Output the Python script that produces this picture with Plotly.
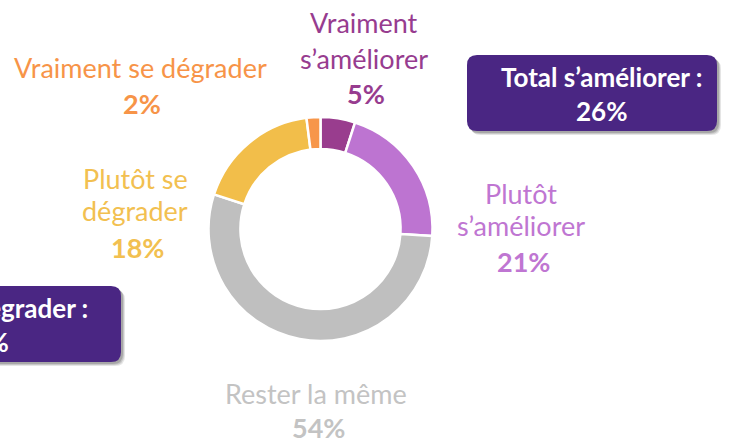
import plotly.graph_objects as go

# ---- data ----
categories = ["Vraiment s’améliorer", "Plutôt s’améliorer", "Rester la même",
              "Plutôt se dégrader", "Vraiment se dégrader"]
values = [5, 21, 54, 18, 2]
label_lines = [["Vraiment", "s’améliorer"], ["Plutôt", "s’améliorer"], ["Rester la même"],
               ["Plutôt se", "dégrader"], ["Vraiment se dégrader"]]
slice_colors = ["#993d8e", "#bd74d1", "#bfbfbf", "#f2be4a", "#f7964a"]
text_colors = ["#973c8f", "#bf76d2", "#c3c3c3", "#f2c050", "#f79448"]
total_labels = ["Total s’améliorer :", "Total se dégrader :"]
total_values = [values[0] + values[1], values[3] + values[4]]

W, H = 729, 440
FONT = "Lato"


def px(x):
    return x / W


def py(y):
    return 1 - y / H


# donut geometry (pixels)
cx, cy, r = 320.5, 229, 112

fig = go.Figure(go.Pie(
    labels=categories, values=values, sort=False, direction="clockwise", rotation=0,
    hole=0.715, marker=dict(colors=slice_colors, line=dict(color="white", width=2.5)),
    textinfo="none", hoverinfo="label+percent", showlegend=False,
    domain=dict(x=[px(cx - r), px(cx + r)], y=[py(cy + r), py(cy - r)]),
))

annotations = []
# label layout: (center x, baselines of name lines, baseline of pct)
label_pos = [
    (364, [31, 68], 102),
    (521, [202, 234], 270),
    (316, [402], 436),
    (135, [187, 220], 257),
    (140, [76], 113),
]
fs = 27
for i, (x, bls, pbl) in enumerate(label_pos):
    for line, bl in zip(label_lines[i], bls):
        annotations.append(dict(x=px(x), y=py(bl - 9), xref="paper", yref="paper",
                                text=line, showarrow=False, xanchor="center", yanchor="middle",
                                font=dict(family=FONT, size=fs, color=text_colors[i])))
    annotations.append(dict(x=px(x + 2), y=py(pbl - 9), xref="paper", yref="paper",
                            text=f"<b>{values[i]}%</b>", showarrow=False,
                            xanchor="center", yanchor="middle",
                            font=dict(family=FONT, size=fs, color=text_colors[i])))


def rounded_path(x0, y0, x1, y1, rad):
    # pixel coords -> paper path with rounded corners
    pts = []
    pts.append(f"M {px(x0 + rad)} {py(y0)}")
    pts.append(f"L {px(x1 - rad)} {py(y0)}")
    pts.append(f"Q {px(x1)} {py(y0)} {px(x1)} {py(y0 + rad)}")
    pts.append(f"L {px(x1)} {py(y1 - rad)}")
    pts.append(f"Q {px(x1)} {py(y1)} {px(x1 - rad)} {py(y1)}")
    pts.append(f"L {px(x0 + rad)} {py(y1)}")
    pts.append(f"Q {px(x0)} {py(y1)} {px(x0)} {py(y1 - rad)}")
    pts.append(f"L {px(x0)} {py(y0 + rad)}")
    pts.append(f"Q {px(x0)} {py(y0)} {px(x0 + rad)} {py(y0)}")
    pts.append("Z")
    return " ".join(pts)


boxes = [(467, 55, 717, 131), (-130, 286, 121, 362)]
shapes = []
for (x0, y0, x1, y1) in boxes:
    for k, op in [(4, 0.10), (3, 0.13), (2, 0.16)]:
        shapes.append(dict(type="path", xref="paper", yref="paper",
                           path=rounded_path(x0 + k, y0 + k, x1 + k, y1 + k, 10),
                           fillcolor=f"rgba(0,0,0,{op})", line=dict(width=0), layer="above"))
    shapes.append(dict(type="path", xref="paper", yref="paper",
                       path=rounded_path(x0, y0, x1, y1, 10),
                       fillcolor="#4a2683", line=dict(width=0), layer="above"))

annotations.append(dict(x=px(601), y=py(94), xref="paper", yref="paper",
                        text=f"<b>{total_labels[0]}<br>{total_values[0]}%</b>",
                        showarrow=False, xanchor="center", yanchor="middle", align="center",
                        font=dict(family=FONT, size=26, color="white")))
annotations.append(dict(x=px(90), y=py(325), xref="paper", yref="paper",
                        text=f"<b>{total_labels[1]}<br>{total_values[1]}%</b>",
                        showarrow=False, xanchor="right", yanchor="middle", align="center",
                        font=dict(family=FONT, size=26, color="white")))

fig.update_layout(width=W, height=H, margin=dict(l=0, r=0, t=0, b=0),
                  paper_bgcolor="white", plot_bgcolor="white",
                  annotations=annotations, shapes=shapes)

fig.write_html("out.html", config={"displayModeBar": False},
               post_script="document.body.style.margin='0px';")
